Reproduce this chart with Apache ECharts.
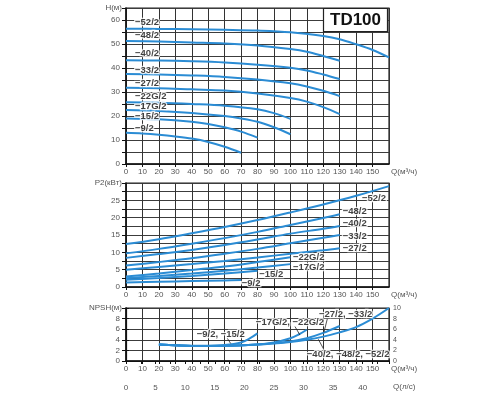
<!DOCTYPE html>
<html>
<head>
<meta charset="utf-8">
<script src="https://cdn.jsdelivr.net/npm/echarts@6/dist/echarts.min.js"></script>
<style>
  html, body { margin: 0; padding: 0; background: #fff; }
  #chart { width: 500px; height: 400px; }
</style>
</head>
<body>
<div id="chart"></div>
<script>
// H(м) curves, [Q м³/ч, H м]
var head52 = [[0,56.4],[20,56.3],[40,56.1],[60,55.9],[80,55.6],[100,54.9],[120,53.3],[130,52],[140,49.9],[150,47.5],[160,44.4]];
var head48 = [[0,51.2],[20,51],[40,50.6],[60,50.2],[80,49.4],[100,47.9],[110,46.8],[120,45.0],[130,43.0]];
var head40 = [[0,43.2],[20,43.1],[40,42.8],[60,42.3],[80,41.4],[100,40.1],[110,39],[120,37.3],[130,35.4]];
var head33 = [[0,37.5],[20,37.3],[40,36.9],[60,36.3],[80,35.2],[100,33.6],[110,32.3],[120,30.5],[130,28.3]];
var head27 = [[0,31.8],[20,31.6],[40,31.1],[60,30.6],[80,29.4],[100,27.5],[110,26.0],[120,23.7],[130,20.8]];
var head22 = [[0,25.7],[20,25.5],[40,25],[60,24.3],[80,22.8],[90,21.2],[100,18.8]];
var head17 = [[0,22.5],[20,22.1],[40,21.3],[60,20],[70,19],[80,17.6],[90,15.3],[100,12.4]];
var head15 = [[0,19],[20,18.6],[40,17.6],[50,16.7],[60,15.3],[70,13.5],[80,11]];
var head9 = [[0,13],[10,12.7],[20,12.2],[30,11.5],[40,10.6],[50,9.2],[60,7.2],[70,4.7]];

// P2(кВт) curves
var power52 = [[0,12.4],[20,13.8],[40,15.5],[60,17.3],[80,19.3],[100,21.5],[120,23.8],[140,26.3],[160,29.1]];
var power48 = [[0,9.7],[20,11],[40,12.5],[60,14.1],[80,15.9],[100,17.9],[120,19.9],[130,21.0]];
var power40 = [[0,8.4],[20,9.5],[40,10.7],[60,12.1],[80,13.7],[100,15.4],[120,16.8],[130,17.6]];
var power33 = [[0,6.2],[20,7.2],[40,8.3],[60,9.6],[80,11.0],[100,12.6],[120,14.2],[130,15.0]];
var power27 = [[0,5.0],[20,5.8],[40,6.6],[60,7.5],[80,8.5],[100,9.6],[120,10.6],[130,11.2]];
var power22 = [[0,3.0],[20,3.9],[40,4.9],[60,5.9],[80,7.2],[100,8.6]];
var power17 = [[0,2.5],[20,3.2],[40,3.9],[60,4.7],[80,5.6],[100,6.6]];
var power15 = [[0,2.1],[20,2.6],[40,3.2],[60,3.9],[80,4.7]];
var power9 = [[0,1.3],[20,1.5],[40,1.7],[60,1.9],[70,2.0]];

// NPSH(м) curves
var npsh9 = [[20,3.1],[30,2.95],[40,2.85],[50,2.85],[60,3.0],[70,3.5],[75,4.2],[80,5.2]];
var npsh17 = [[20,3.1],[40,2.85],[60,2.85],[80,3.1],[90,3.5],[100,4.3],[105,5.0],[110,5.9]];
var npsh27 = [[20,3.1],[40,2.85],[60,2.85],[80,3.1],[100,3.7],[110,4.3],[120,5.3],[130,6.6]];
var npsh40 = [[20,3.1],[40,2.9],[60,2.9],[80,3.1],[100,3.6],[110,4.0],[120,4.6],[130,5.4],[140,6.4],[150,8.0],[160,10]];

// curve names, [Q, value, text]
var headLabels = [[5.5,58.9,'−52/2'],[5.5,53.8,'−48/2'],[5.5,46.1,'−40/2'],[5.5,38.9,'−33/2'],[5.5,33.6,'−27/2'],[5.5,28.0,'−22G/2'],[5.5,23.9,'−17G/2'],[5.5,19.7,'−15/2'],[5.5,14.9,'−9/2']];
var powerLabels = [[143.5,25.7,'−52/2'],[131.8,21.9,'−48/2'],[131.8,18.3,'−40/2'],[131.8,14.7,'−33/2'],[131.8,11.2,'−27/2'],[101.6,8.5,'−22G/2'],[101.6,5.8,'−17G/2'],[81,3.7,'−15/2'],[70.4,1.1,'−9/2']];
var npshLabels = [[43,5.1,'−9/2, −15/2'],[79,7.25,'−17G/2, −22G/2'],[117.4,8.8,'−27/2, −33/2'],[110,1.2,'−40/2, −48/2, −52/2']];
var npshLeaders = [
  [[61.6,4.3],[63.7,3.3]],
  [[102.8,6.5],[105.8,4.9]],
  [[122.5,8.0],[120.4,5.4]],
  [[120.5,2.1],[117,4.1]]
];

var qStep = 10;
var lsPerM3h = 1 / 3.6;

var blue = '#2b8cd4';
var gridColor = '#3c3c3c';
var textColor = '#555';
var tickFont = 'Liberation Sans, Arial, sans-serif';

function curve(data, xi, yi) {
  return {
    type: 'line', data: data, xAxisIndex: xi, yAxisIndex: yi,
    smooth: 0.35, showSymbol: false, symbol: 'none',
    lineStyle: { color: blue, width: 2 }, z: 3
  };
}
function labels(data, xi, yi) {
  return {
    type: 'scatter', data: data, xAxisIndex: xi, yAxisIndex: yi,
    symbolSize: 0, z: 6,
    label: {
      show: true, position: 'right', distance: 0,
      formatter: function (p) { return p.value[2]; },
      fontFamily: tickFont, fontWeight: 'bold', fontSize: 9.5,
      color: '#111', textBorderColor: '#fff', textBorderWidth: 2.5
    }
  };
}
function leader(data) {
  return {
    type: 'line', data: data, xAxisIndex: 2, yAxisIndex: 2,
    showSymbol: false, symbol: 'none', z: 5,
    lineStyle: { color: '#222', width: 0.8 }
  };
}
function qAxis(gi) {
  return {
    type: 'value', gridIndex: gi, min: 0, max: 160, interval: qStep,
    name: 'Q(м³/ч)', nameLocation: 'end', nameGap: 2,
    nameTextStyle: { color: textColor, fontSize: 8, fontFamily: tickFont, align: 'left', verticalAlign: 'top', padding: [4, 0, 0, 0] },
    axisLine: { lineStyle: { color: '#111', width: 1.5 } },
    axisTick: { show: true, length: 3, lineStyle: { color: '#111' } },
    axisLabel: { color: textColor, fontSize: 8, fontFamily: tickFont, margin: 4, showMaxLabel: false },
    splitLine: { show: true, lineStyle: { color: '#333', width: 1 } }
  };
}
function valAxis(gi, max, step, labelStep, name, hideTop) {
  return {
    type: 'value', gridIndex: gi, min: 0, max: max, interval: step,
    name: name, nameLocation: 'end', nameGap: 0,
    nameTextStyle: { color: textColor, fontSize: 8, fontFamily: tickFont, align: 'right', verticalAlign: 'middle', padding: [0, 4, 0, 0] },
    axisLine: { show: true, lineStyle: { color: '#111', width: 1.5 } },
    axisTick: { show: true, length: 4, lineStyle: { color: '#111' } },
    axisLabel: {
      color: textColor, fontSize: 8, fontFamily: tickFont, margin: 6,
      formatter: function (v) {
        if (hideTop && v >= max) return '';
        return (Math.abs(v / labelStep - Math.round(v / labelStep)) < 1e-6) ? String(v) : '';
      }
    },
    splitLine: { show: true, lineStyle: { color: gridColor, width: 1 } }
  };
}

var chart = echarts.init(document.getElementById('chart'));

var option = {
  animation: false,
  backgroundColor: '#fff',
  title: {
    text: 'TD100', left: 323, top: 8,
    padding: [3, 7, 3, 7],
    borderColor: '#222', borderWidth: 1.2, backgroundColor: '#fff',
    textStyle: { fontFamily: 'Liberation Sans', fontWeight: 'bold', fontSize: 17, color: '#111', lineHeight: 18 }
  },
  grid: [
    { left: 126, right: 111, top: 8, height: 156, show: true, borderColor: '#222', borderWidth: 1.2 },
    { left: 126, right: 111, top: 183, height: 104, show: true, borderColor: '#222', borderWidth: 1.2 },
    { left: 126, right: 111, top: 308, height: 53, show: true, borderColor: '#222', borderWidth: 1.2 }
  ],
  xAxis: [
    qAxis(0),
    qAxis(1),
    qAxis(2),
    {
      type: 'value', gridIndex: 2, position: 'bottom', offset: 17,
      min: 0, max: 160 * lsPerM3h, interval: 2.5,
      name: 'Q(л/с)', nameLocation: 'end', nameGap: 4,
      nameTextStyle: { color: textColor, fontSize: 8, fontFamily: tickFont, align: 'left', verticalAlign: 'top', padding: [22, 0, 0, 0] },
      axisLine: { lineStyle: { color: '#111', width: 1.2 } },
      axisTick: { show: true, length: 3, lineStyle: { color: '#111' } },
      axisLabel: {
        color: textColor, fontSize: 8, fontFamily: tickFont, margin: 6,
        formatter: function (v) { return v % 5 === 0 ? String(v) : ''; }
      },
      splitLine: { show: false }
    }
  ],
  yAxis: [
    valAxis(0, 65, 5, 10, 'H(м)', true),
    valAxis(1, 30, 2.5, 5, 'P2(кВт)', true),
    valAxis(2, 10, 2, 2, 'NPSH(м)', true),
    {
      type: 'value', gridIndex: 2, position: 'right', min: 0, max: 10, interval: 2,
      axisLine: { show: true, lineStyle: { color: '#111', width: 1.2 } },
      axisTick: { show: true, length: 3, lineStyle: { color: '#111' } },
      axisLabel: { color: textColor, fontSize: 7, fontFamily: tickFont, margin: 4 },
      splitLine: { show: false }
    }
  ],
  series: [
    curve(head52, 0, 0), curve(head48, 0, 0), curve(head40, 0, 0), curve(head33, 0, 0), curve(head27, 0, 0),
    curve(head22, 0, 0), curve(head17, 0, 0), curve(head15, 0, 0), curve(head9, 0, 0),
    curve(power52, 1, 1), curve(power48, 1, 1), curve(power40, 1, 1), curve(power33, 1, 1), curve(power27, 1, 1),
    curve(power22, 1, 1), curve(power17, 1, 1), curve(power15, 1, 1), curve(power9, 1, 1),
    curve(npsh40, 2, 2), curve(npsh27, 2, 2), curve(npsh17, 2, 2), curve(npsh9, 2, 2),
    leader(npshLeaders[0]), leader(npshLeaders[1]), leader(npshLeaders[2]), leader(npshLeaders[3]),
    labels(headLabels, 0, 0),
    labels(powerLabels, 1, 1),
    labels(npshLabels, 2, 2)
  ]
};

chart.setOption(option);
</script>
</body>
</html>
